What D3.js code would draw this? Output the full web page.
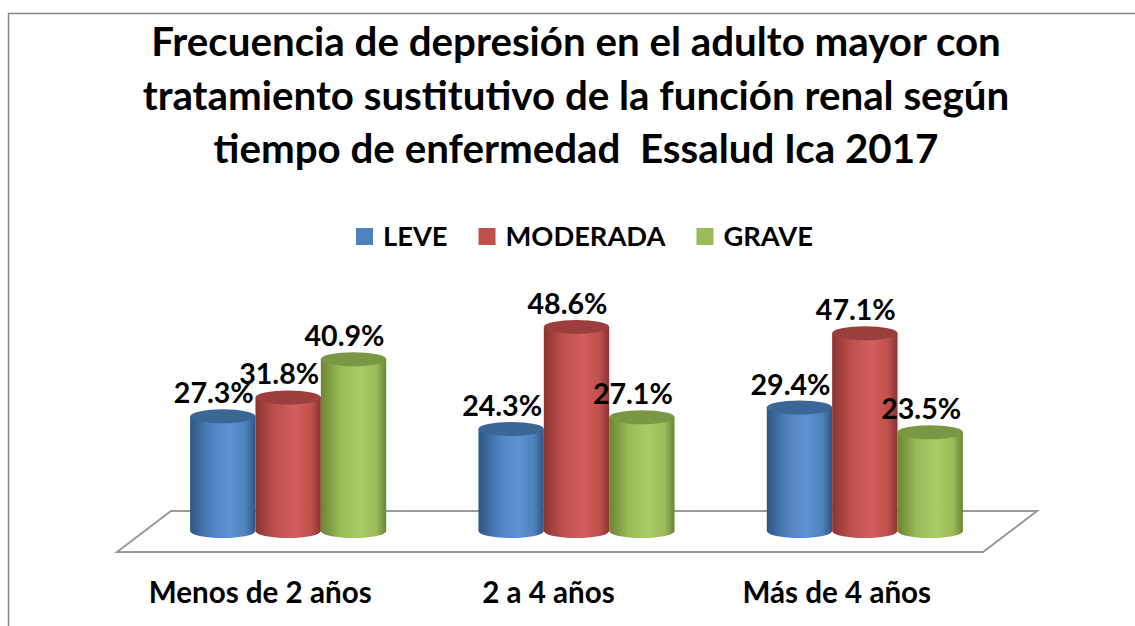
<!DOCTYPE html>
<html>
<head>
<meta charset="utf-8">
<script src="https://cdn.jsdelivr.net/npm/d3@7"></script>
<style>
  body { margin: 0; background: #fff; }
  svg { display: block; }
  text { font-family: Lato, "Open Sans", sans-serif; font-weight: bold; fill: #000; white-space: pre; }
</style>
</head>
<body>
<div id="chart"></div>
<script>
// data
const categories = ["Menos de 2 años", "2 a 4 años", "Más de 4 años"];
const series = ["LEVE", "MODERADA", "GRAVE"];
const leve = [0.273, 0.243, 0.294];
const moderada = [0.318, 0.486, 0.471];
const grave = [0.409, 0.271, 0.235];
const titleLines = [
    "Frecuencia de depresión en el adulto mayor con",
    "tratamiento sustitutivo de la función renal según",
    "tiempo de enfermedad  Essalud Ica 2017"
];

const values = [leve, moderada, grave];
const colors = {
    LEVE:     {dark: "#2d5584", mid: "#4f81bd", light: "#5e92d4", top: "#3b6797"},
    MODERADA: {dark: "#8b3331", mid: "#c0504d", light: "#d25f5b", top: "#9c3e3b"},
    GRAVE:    {dark: "#6a8533", mid: "#9bbb59", light: "#a9cc63", top: "#7a9844"}
};

const W = 1135, H = 626;
const svg = d3.select("#chart").append("svg")
    .attr("width", W)
    .attr("height", H);

// chart border (only top/left visible in the window)
svg.append("rect")
    .attr("x", 8.5).attr("y", 13.5)
    .attr("width", W + 20).attr("height", H + 20)
    .attr("fill", "#fff")
    .attr("stroke", "#878787")
    .attr("stroke-width", 1.5);

// helper: scale a font so a text gets a given width
function fitSize(str, base, target) {
    const t = svg.append("text").style("font-size", base + "px").text(str);
    const w = t.node().getComputedTextLength();
    t.remove();
    return base * target / w;
}

// title
const titleSize = fitSize(titleLines[0], 36, 850);
svg.append("g").selectAll("text")
    .data(titleLines)
    .join("text")
    .attr("x", 576)
    .attr("y", (d, i) => 56 + i * 53.5)
    .attr("text-anchor", "middle")
    .style("font-size", titleSize + "px")
    .text(d => d);

// legend
const legendSize = fitSize("MODERADA", 25, 160);
const legend = svg.append("g");
let lx = 356;
series.forEach(s => {
    legend.append("rect")
        .attr("x", lx).attr("y", 228)
        .attr("width", 17).attr("height", 17)
        .attr("fill", colors[s].mid);
    const t = legend.append("text")
        .attr("x", lx + 27).attr("y", 246)
        .style("font-size", legendSize + "px")
        .text(s);
    lx += 27 + t.node().getComputedTextLength() + 31;
});

// scales
const x = d3.scaleBand()
    .domain(categories)
    .range([144, 1009])
    .paddingInner(0.32)
    .paddingOuter(0.16);

const xs = d3.scaleBand()
    .domain(series)
    .range([0, x.bandwidth()])
    .padding(0);

const y = d3.scaleLinear()
    .domain([0, 0.5])
    .range([531, 321]);

// floor
const fx0 = x.range()[0] - 27, fx1 = x.range()[1] - 26;
const fyFront = 552, fyBack = 511, depth = 54;
svg.append("path")
    .attr("d", `M${fx0},${fyFront} L${fx0 + depth},${fyBack} L${fx1 + depth},${fyBack} L${fx1},${fyFront} Z`)
    .attr("fill", "#fff")
    .attr("stroke", "#9a9a9a")
    .attr("stroke-width", 2);

// gradients
const defs = svg.append("defs");
series.forEach(s => {
    const c = colors[s];
    const g = defs.append("linearGradient")
        .attr("id", "grad-" + s)
        .attr("x1", "0%").attr("x2", "100%")
        .attr("y1", "0%").attr("y2", "0%");
    g.append("stop").attr("offset", "0%").attr("stop-color", c.dark);
    g.append("stop").attr("offset", "30%").attr("stop-color", c.mid);
    g.append("stop").attr("offset", "60%").attr("stop-color", c.light);
    g.append("stop").attr("offset", "85%").attr("stop-color", c.mid);
    g.append("stop").attr("offset", "100%").attr("stop-color", c.dark);
});

// cylinders
const bars = [];
categories.forEach((cat, ci) => {
    series.forEach((s, si) => {
        bars.push({cat: cat, s: s, v: values[si][ci]});
    });
});

const rx = xs.bandwidth() / 2, ry = 7;
const barG = svg.append("g").selectAll("g")
    .data(bars)
    .join("g");

barG.append("path")
    .attr("d", d => {
        const x0 = x(d.cat) + xs(d.s), x1 = x0 + xs.bandwidth();
        const yt = y(d.v), yb = y(0);
        return `M${x0},${yt} L${x0},${yb} A${rx},${ry} 0 0 0 ${x1},${yb} L${x1},${yt} Z`;
    })
    .attr("fill", d => "url(#grad-" + d.s + ")");

barG.append("ellipse")
    .attr("cx", d => x(d.cat) + xs(d.s) + rx)
    .attr("cy", d => y(d.v))
    .attr("rx", rx)
    .attr("ry", ry)
    .attr("fill", d => colors[d.s].top);

// data labels
const labelSize = fitSize("27.3%", 26, 80);
svg.append("g").selectAll("text")
    .data(bars)
    .join("text")
    .attr("x", d => x(d.cat) + xs(d.s) + rx - 9)
    .attr("y", d => y(d.v) - 13)
    .attr("text-anchor", "middle")
    .style("font-size", labelSize + "px")
    .text(d => d3.format(".1%")(d.v));

// category labels
const catSize = fitSize("Menos de 2 años", 24, 223);
svg.append("g").selectAll("text")
    .data(categories)
    .join("text")
    .attr("x", d => x(d) + x.bandwidth() / 2 - 28)
    .attr("y", 603)
    .attr("text-anchor", "middle")
    .style("font-size", catSize + "px")
    .text(d => d);
</script>
</body>
</html>
